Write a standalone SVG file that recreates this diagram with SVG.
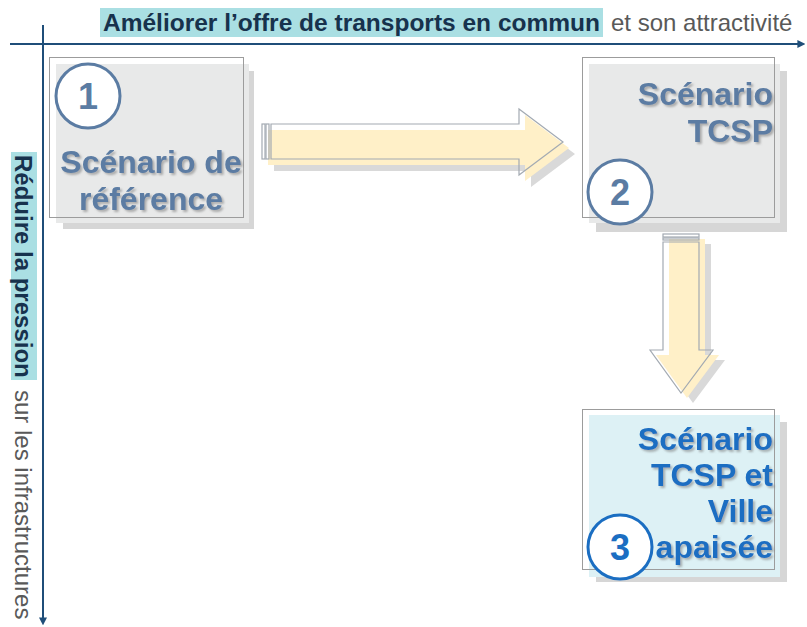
<svg xmlns="http://www.w3.org/2000/svg" width="807" height="627" viewBox="0 0 807 627">
<style>
.ax{stroke:#1f4e79;stroke-width:2;fill:none}
.hl{fill:#aadfe3}
.b{font-family:"Liberation Sans",Arial,sans-serif;font-weight:bold;font-size:24px;fill:#17324d}
.r{font-family:"Liberation Sans",Arial,sans-serif;font-size:24px;fill:#595959}
.shadow{fill:#d6d6d6}
.fillg{fill:#e8e9e9}
.fillc{fill:#ddf1f5}
.border{fill:none;stroke:#9c9c9c;stroke-width:1}
.t1{font-family:"Liberation Sans",Arial,sans-serif;font-weight:bold;font-size:32px;fill:#5b7ca3}
.t3{font-family:"Liberation Sans",Arial,sans-serif;font-weight:bold;font-size:32px;fill:#1b6ec2}
.c1{fill:#fff;stroke:#5b7ca3;stroke-width:3}
.c3{fill:#fff;stroke:#1b6ec2;stroke-width:3}
.n{font-family:"Liberation Sans",Arial,sans-serif;font-weight:bold;font-size:36px;text-anchor:middle}
.ao{fill:none;stroke:#a3aab2;stroke-width:1.2}
.ay{fill:#fff0c8}
.as{fill:#d9d9d9}
</style>
<defs>
<filter id="ts" x="-10%" y="-20%" width="130%" height="150%">
<feDropShadow dx="2" dy="2" stdDeviation="1" flood-color="#777" flood-opacity="0.55"/>
</filter>
<marker id="ah" viewBox="0 0 10 10" refX="2" refY="5" markerWidth="4" markerHeight="4" orient="auto" markerUnits="strokeWidth">
<path d="M0,0 L10,5 L0,10 z" fill="#1f4e79"/>
</marker>
</defs>

<g id="axes">
<rect class="hl" x="100" y="8" width="503" height="29"/>
<text class="b" x="103" y="31" textLength="497" lengthAdjust="spacingAndGlyphs">Améliorer l’offre de transports en commun</text>
<text class="r" x="611" y="31">et son attractivité</text>
<line class="ax" x1="10" y1="44" x2="799" y2="44" marker-end="url(#ah)"/>
<rect class="hl" x="11" y="152" width="26" height="228"/>
<g transform="translate(15,155) rotate(90)">
<text class="b" x="0" y="0">Réduire la pression</text>
<text class="r" x="235" y="0">sur les infrastructures</text>
</g>
<line class="ax" x1="43" y1="25" x2="43" y2="619" marker-end="url(#ah)"/>
</g>

<g id="connectors">
<g id="arrow1">
<g class="as" transform="translate(12,12)">
<path d="M262,124 H519 V109 L563,142 L519,175 V159 H262 Z"/>
</g>
<g class="ay" transform="translate(6,6)">
<path d="M262,124 H519 V109 L563,142 L519,175 V159 H262 Z"/>
</g>
<g class="ao">
<rect x="262" y="124" width="3" height="35"/>
<rect x="266" y="124" width="3" height="35"/>
<path d="M271,124 H519 V109 L563,142 L519,175 V159 H271 Z"/>
</g>
</g>
<g id="arrow2">
<g class="as" transform="translate(12,10)">
<path d="M663,234 H699 V350 H713 L681,393 L650,350 H663 Z"/>
</g>
<g class="ay" transform="translate(6,5)">
<path d="M663,234 H699 V350 H713 L681,393 L650,350 H663 Z"/>
</g>
<g class="ao">
<rect x="663" y="234" width="36" height="3"/>
<rect x="663" y="238" width="36" height="2"/>
<path d="M663,242 H699 V350 H713 L681,393 L650,350 H663 Z"/>
</g>
</g>
</g>

<g id="node1">
<rect class="shadow" x="63" y="71" width="191" height="158"/>
<rect class="fillg" x="56" y="64" width="193" height="159"/>
<rect class="border" x="49.5" y="57.5" width="194" height="160"/>
<circle class="c1" cx="88" cy="96" r="32"/>
<text class="n" x="88" y="109" fill="#5b7ca3">1</text>
<g filter="url(#ts)">
<text class="t1" x="151" y="173" text-anchor="middle">Scénario de</text>
<text class="t1" x="151" y="210" text-anchor="middle">référence</text>
</g>
</g>

<g id="node2">
<rect class="shadow" x="596" y="71" width="191" height="161"/>
<rect class="fillg" x="589" y="64" width="191" height="159"/>
<rect class="border" x="582.5" y="57.5" width="192" height="160"/>
<g filter="url(#ts)">
<text class="t1" x="773" y="105" text-anchor="end">Scénario</text>
<text class="t1" x="773" y="142" text-anchor="end">TCSP</text>
</g>
<circle class="c1" cx="620" cy="192" r="32"/>
<text class="n" x="620" y="205" fill="#5b7ca3">2</text>
</g>

<g id="node3">
<rect class="shadow" x="596" y="422" width="191" height="160"/>
<rect class="fillc" x="589" y="415" width="191" height="162"/>
<rect class="border" x="582.5" y="409.5" width="192" height="160"/>
<g filter="url(#ts)">
<text class="t3" x="773" y="450" text-anchor="end">Scénario</text>
<text class="t3" x="773" y="486" text-anchor="end">TCSP et</text>
<text class="t3" x="773" y="522" text-anchor="end">Ville</text>
<text class="t3" x="773" y="558" text-anchor="end">apaisée</text>
</g>
<circle class="c3" cx="620" cy="547" r="32"/>
<text class="n" x="620" y="560" fill="#1b6ec2">3</text>
</g>
</svg>
